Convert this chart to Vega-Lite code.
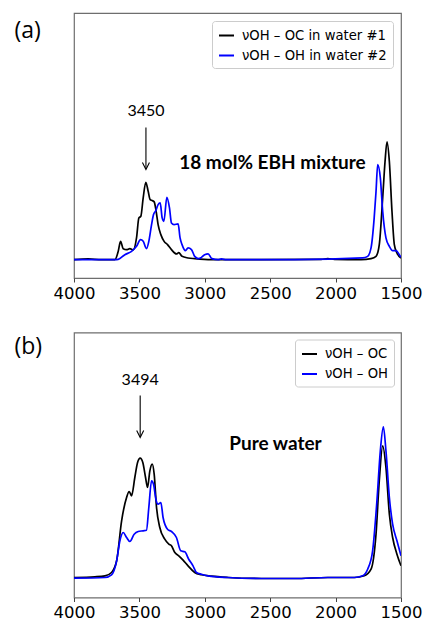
{
  "$schema": "https://vega.github.io/schema/vega-lite/v6.json",
  "background": "white",
  "padding": {"left": 13, "top": 12, "right": 2, "bottom": 4},
  "bounds": "flush",
  "spacing": 54.5,
  "config": {
    "view": {"stroke": "#6e6e6e", "strokeWidth": 1.2},
    "axis": {"grid": false}
  },
  "resolve": {
    "scale": {"x": "independent", "y": "independent", "color": "independent"},
    "legend": {"color": "independent"}
  },
  "datasets": {
    "a": [
      {"w": 4000, "I": 0, "s": "OC"}, {"w": 3891, "I": 0.7, "s": "OC"}, {"w": 3789, "I": 0, "s": "OC"},
      {"w": 3687, "I": 0, "s": "OC"}, {"w": 3662, "I": 8.3, "s": "OC"}, {"w": 3644, "I": 18.3, "s": "OC"},
      {"w": 3624, "I": 11, "s": "OC"}, {"w": 3598, "I": 10, "s": "OC"}, {"w": 3573, "I": 11, "s": "OC"},
      {"w": 3547, "I": 9.7, "s": "OC"}, {"w": 3522, "I": 21.7, "s": "OC"}, {"w": 3504, "I": 41.7, "s": "OC"},
      {"w": 3489, "I": 43.3, "s": "OC"}, {"w": 3471, "I": 61.7, "s": "OC"}, {"w": 3451, "I": 77.3, "s": "OC"},
      {"w": 3433, "I": 68.3, "s": "OC"}, {"w": 3418, "I": 60, "s": "OC"}, {"w": 3402, "I": 59, "s": "OC"},
      {"w": 3387, "I": 57.7, "s": "OC"}, {"w": 3372, "I": 48.3, "s": "OC"}, {"w": 3357, "I": 35, "s": "OC"},
      {"w": 3336, "I": 25, "s": "OC"}, {"w": 3311, "I": 18.3, "s": "OC"}, {"w": 3285, "I": 15, "s": "OC"},
      {"w": 3255, "I": 10, "s": "OC"}, {"w": 3217, "I": 5.7, "s": "OC"}, {"w": 3199, "I": 7, "s": "OC"},
      {"w": 3174, "I": 3.3, "s": "OC"}, {"w": 3128, "I": 1.7, "s": "OC"}, {"w": 3077, "I": 1, "s": "OC"},
      {"w": 2950, "I": 0, "s": "OC"}, {"w": 2568, "I": 0, "s": "OC"}, {"w": 2110, "I": 0.3, "s": "OC"},
      {"w": 2060, "I": 1, "s": "OC"}, {"w": 2009, "I": 0.3, "s": "OC"}, {"w": 1805, "I": 0, "s": "OC"},
      {"w": 1729, "I": 1, "s": "OC"}, {"w": 1691, "I": 3.3, "s": "OC"}, {"w": 1666, "I": 15, "s": "OC"},
      {"w": 1640, "I": 61.7, "s": "OC"}, {"w": 1622, "I": 98, "s": "OC"}, {"w": 1607, "I": 117.7, "s": "OC"},
      {"w": 1589, "I": 98, "s": "OC"}, {"w": 1569, "I": 48.3, "s": "OC"}, {"w": 1551, "I": 15, "s": "OC"},
      {"w": 1531, "I": 6.7, "s": "OC"}, {"w": 1500, "I": 1.7, "s": "OC"},
      {"w": 4000, "I": 0, "s": "OH"}, {"w": 3687, "I": 0, "s": "OH"}, {"w": 3662, "I": 0.3, "s": "OH"},
      {"w": 3611, "I": 5, "s": "OH"}, {"w": 3560, "I": 8.3, "s": "OH"}, {"w": 3522, "I": 13.3, "s": "OH"},
      {"w": 3491, "I": 20, "s": "OH"}, {"w": 3471, "I": 18.3, "s": "OH"}, {"w": 3446, "I": 11, "s": "OH"},
      {"w": 3428, "I": 18.3, "s": "OH"}, {"w": 3407, "I": 35, "s": "OH"}, {"w": 3392, "I": 45, "s": "OH"},
      {"w": 3374, "I": 49, "s": "OH"}, {"w": 3357, "I": 55, "s": "OH"}, {"w": 3341, "I": 56.7, "s": "OH"},
      {"w": 3326, "I": 41.7, "s": "OH"}, {"w": 3313, "I": 38.3, "s": "OH"}, {"w": 3290, "I": 62.3, "s": "OH"},
      {"w": 3270, "I": 51.7, "s": "OH"}, {"w": 3255, "I": 36.7, "s": "OH"}, {"w": 3235, "I": 35, "s": "OH"},
      {"w": 3204, "I": 35.7, "s": "OH"}, {"w": 3189, "I": 21.7, "s": "OH"}, {"w": 3174, "I": 15, "s": "OH"},
      {"w": 3148, "I": 9, "s": "OH"}, {"w": 3128, "I": 11.7, "s": "OH"}, {"w": 3102, "I": 10, "s": "OH"},
      {"w": 3077, "I": 3.3, "s": "OH"}, {"w": 3046, "I": 1, "s": "OH"}, {"w": 3026, "I": 2.3, "s": "OH"},
      {"w": 3001, "I": 5, "s": "OH"}, {"w": 2975, "I": 5.7, "s": "OH"}, {"w": 2945, "I": 1, "s": "OH"},
      {"w": 2899, "I": 0, "s": "OH"}, {"w": 2873, "I": 0.7, "s": "OH"}, {"w": 2835, "I": 0, "s": "OH"},
      {"w": 2314, "I": 0, "s": "OH"}, {"w": 1793, "I": 1.7, "s": "OH"}, {"w": 1755, "I": 3.3, "s": "OH"},
      {"w": 1729, "I": 11.7, "s": "OH"}, {"w": 1705, "I": 41.7, "s": "OH"}, {"w": 1691, "I": 68, "s": "OH"},
      {"w": 1678, "I": 95, "s": "OH"}, {"w": 1658, "I": 81.7, "s": "OH"}, {"w": 1640, "I": 48.3, "s": "OH"},
      {"w": 1615, "I": 21.7, "s": "OH"}, {"w": 1589, "I": 13.3, "s": "OH"}, {"w": 1564, "I": 9, "s": "OH"},
      {"w": 1538, "I": 9, "s": "OH"}, {"w": 1513, "I": 5, "s": "OH"}, {"w": 1500, "I": 2.3, "s": "OH"}
    ],
    "b": [
      {"w": 4000, "I": 0, "s": "OC"}, {"w": 3840, "I": 0.7, "s": "OC"}, {"w": 3763, "I": 1.7, "s": "OC"},
      {"w": 3713, "I": 5, "s": "OC"}, {"w": 3674, "I": 16.7, "s": "OC"}, {"w": 3636, "I": 56.7, "s": "OC"},
      {"w": 3598, "I": 80, "s": "OC"}, {"w": 3578, "I": 86, "s": "OC"}, {"w": 3560, "I": 81.7, "s": "OC"},
      {"w": 3535, "I": 100, "s": "OC"}, {"w": 3514, "I": 115, "s": "OC"}, {"w": 3494, "I": 119.3, "s": "OC"},
      {"w": 3474, "I": 115, "s": "OC"}, {"w": 3453, "I": 100, "s": "OC"}, {"w": 3438, "I": 90, "s": "OC"},
      {"w": 3420, "I": 106.7, "s": "OC"}, {"w": 3402, "I": 113.3, "s": "OC"}, {"w": 3387, "I": 103.3, "s": "OC"},
      {"w": 3369, "I": 70, "s": "OC"}, {"w": 3344, "I": 50, "s": "OC"}, {"w": 3306, "I": 38.3, "s": "OC"},
      {"w": 3275, "I": 33.3, "s": "OC"}, {"w": 3255, "I": 31.7, "s": "OC"}, {"w": 3229, "I": 25, "s": "OC"},
      {"w": 3199, "I": 21.7, "s": "OC"}, {"w": 3166, "I": 17.3, "s": "OC"}, {"w": 3128, "I": 11.7, "s": "OC"},
      {"w": 3077, "I": 5, "s": "OC"}, {"w": 3026, "I": 2.7, "s": "OC"}, {"w": 2950, "I": 1.3, "s": "OC"},
      {"w": 2823, "I": 0, "s": "OC"}, {"w": 2568, "I": -1, "s": "OC"}, {"w": 2314, "I": -1, "s": "OC"},
      {"w": 2060, "I": 0, "s": "OC"}, {"w": 1856, "I": 0, "s": "OC"}, {"w": 1780, "I": 1.7, "s": "OC"},
      {"w": 1729, "I": 8.3, "s": "OC"}, {"w": 1691, "I": 43.3, "s": "OC"}, {"w": 1666, "I": 96.7, "s": "OC"},
      {"w": 1640, "I": 131.7, "s": "OC"}, {"w": 1615, "I": 110, "s": "OC"}, {"w": 1589, "I": 63.3, "s": "OC"},
      {"w": 1564, "I": 40, "s": "OC"}, {"w": 1531, "I": 23.3, "s": "OC"}, {"w": 1500, "I": 11.7, "s": "OC"},
      {"w": 4000, "I": -0.7, "s": "OH"}, {"w": 3763, "I": 0, "s": "OH"}, {"w": 3713, "I": 2.7, "s": "OH"},
      {"w": 3674, "I": 16.7, "s": "OH"}, {"w": 3649, "I": 36.7, "s": "OH"}, {"w": 3624, "I": 45, "s": "OH"},
      {"w": 3598, "I": 40, "s": "OH"}, {"w": 3573, "I": 36, "s": "OH"}, {"w": 3540, "I": 43.3, "s": "OH"},
      {"w": 3509, "I": 46, "s": "OH"}, {"w": 3471, "I": 46.7, "s": "OH"}, {"w": 3446, "I": 47.3, "s": "OH"},
      {"w": 3428, "I": 70, "s": "OH"}, {"w": 3407, "I": 96.7, "s": "OH"}, {"w": 3392, "I": 93.3, "s": "OH"},
      {"w": 3374, "I": 78.3, "s": "OH"}, {"w": 3357, "I": 73.3, "s": "OH"}, {"w": 3336, "I": 75, "s": "OH"},
      {"w": 3319, "I": 60, "s": "OH"}, {"w": 3285, "I": 48.3, "s": "OH"}, {"w": 3255, "I": 46, "s": "OH"},
      {"w": 3217, "I": 40, "s": "OH"}, {"w": 3184, "I": 26.7, "s": "OH"}, {"w": 3153, "I": 25.7, "s": "OH"},
      {"w": 3123, "I": 18.3, "s": "OH"}, {"w": 3090, "I": 11.7, "s": "OH"}, {"w": 3064, "I": 5, "s": "OH"},
      {"w": 3026, "I": 3.3, "s": "OH"}, {"w": 2975, "I": 1.7, "s": "OH"}, {"w": 2823, "I": 0, "s": "OH"},
      {"w": 2568, "I": -1, "s": "OH"}, {"w": 2314, "I": -1, "s": "OH"}, {"w": 2060, "I": 0, "s": "OH"},
      {"w": 1856, "I": 0, "s": "OH"}, {"w": 1793, "I": 1.7, "s": "OH"}, {"w": 1755, "I": 8.3, "s": "OH"},
      {"w": 1717, "I": 26.7, "s": "OH"}, {"w": 1684, "I": 76.7, "s": "OH"}, {"w": 1658, "I": 126.7, "s": "OH"},
      {"w": 1635, "I": 150.7, "s": "OH"}, {"w": 1615, "I": 126.7, "s": "OH"}, {"w": 1589, "I": 80, "s": "OH"},
      {"w": 1564, "I": 53.3, "s": "OH"}, {"w": 1531, "I": 36.7, "s": "OH"}, {"w": 1500, "I": 21.7, "s": "OH"}
    ]
  },
  "vconcat": [
    {
      "width": 327,
      "height": 265,
      "layer": [
        {
          "data": {"name": "a"},
          "mark": {"type": "line", "interpolate": "monotone", "strokeWidth": 1.7, "clip": true},
          "encoding": {
            "x": {"field": "w", "type": "quantitative",
              "scale": {"domain": [1500, 4000], "reverse": true, "nice": false, "zero": false},
              "axis": {"values": [4000, 3500, 3000, 2500, 2000, 1500], "title": null, "grid": false, "domain": false,
                "tickSize": 4, "tickColor": "#444", "labelFont": "DejaVu Sans", "labelFontSize": 16.5,
                "labelColor": "#000", "labelPadding": 3, "format": "d", "labelFlush": false, "labelOverlap": false}},
            "y": {"field": "I", "type": "quantitative",
              "scale": {"domain": [-18.3, 246.3], "nice": false, "zero": false},
              "axis": {"title": "(a)", "labels": false, "ticks": false, "domain": false, "grid": false,
                "titleAngle": 0, "titleX": -60, "titleY": 17, "titleAlign": "left", "titleBaseline": "middle",
                "titleFont": "Open Sans", "titleFontSize": 23, "titleFontWeight": "normal", "titleColor": "#000"}},
            "color": {"field": "s", "type": "nominal",
              "scale": {"domain": ["OC", "OH"], "range": ["#000000", "#0000ff"]},
              "legend": {"orient": "top-right", "offset": 8, "title": null, "fillColor": "white",
                "strokeColor": "#cccccc", "cornerRadius": 3, "padding": 6, "symbolType": "stroke",
                "symbolSize": 225, "symbolStrokeWidth": 2, "labelFont": "DejaVu Sans", "labelFontSize": 13.2,
                "labelColor": "#000", "rowPadding": 5, "labelOffset": 7,
                "labelExpr": "datum.label == 'OC' ? 'νOH – OC in water #1' : 'νOH – OH in water #2'"}}
          }
        },
        {
          "data": {"values": [{}]},
          "mark": {"type": "rule", "color": "black", "strokeWidth": 1.1},
          "encoding": {
            "x": {"datum": 3450, "type": "quantitative"},
            "y": {"datum": 132, "type": "quantitative"},
            "y2": {"datum": 91}
          }
        },
        {
          "data": {"values": [{}]},
          "mark": {"type": "point", "shape": "M-1,-2L0,0L1,-2", "filled": false, "size": 49, "color": "black", "strokeWidth": 1.1, "opacity": 1},
          "encoding": {
            "x": {"datum": 3450, "type": "quantitative"},
            "y": {"datum": 90, "type": "quantitative"}
          }
        },
        {
          "data": {"values": [{}]},
          "mark": {"type": "text", "font": "Lato", "fontSize": 16, "baseline": "middle", "color": "black"},
          "encoding": {
            "x": {"datum": 3450, "type": "quantitative"},
            "y": {"datum": 148, "type": "quantitative"},
            "text": {"value": "3450"}
          }
        },
        {
          "data": {"values": [{}]},
          "mark": {"type": "text", "font": "Lato", "fontWeight": "bold", "fontSize": 19, "baseline": "middle", "color": "black"},
          "encoding": {
            "x": {"datum": 2483, "type": "quantitative"},
            "y": {"datum": 97, "type": "quantitative"},
            "text": {"value": "18 mol% EBH mixture"}
          }
        }
      ]
    },
    {
      "width": 327,
      "height": 265,
      "layer": [
        {
          "data": {"name": "b"},
          "mark": {"type": "line", "interpolate": "monotone", "strokeWidth": 1.7, "clip": true},
          "encoding": {
            "x": {"field": "w", "type": "quantitative",
              "scale": {"domain": [1500, 4000], "reverse": true, "nice": false, "zero": false},
              "axis": {"values": [4000, 3500, 3000, 2500, 2000, 1500], "title": null, "grid": false, "domain": false,
                "tickSize": 4, "tickColor": "#444", "labelFont": "DejaVu Sans", "labelFontSize": 16.5,
                "labelColor": "#000", "labelPadding": 3, "format": "d", "labelFlush": false, "labelOverlap": false}},
            "y": {"field": "I", "type": "quantitative",
              "scale": {"domain": [-20, 245], "nice": false, "zero": false},
              "axis": {"title": "(b)", "labels": false, "ticks": false, "domain": false, "grid": false,
                "titleAngle": 0, "titleX": -60, "titleY": 14, "titleAlign": "left", "titleBaseline": "middle",
                "titleFont": "Open Sans", "titleFontSize": 23, "titleFontWeight": "normal", "titleColor": "#000"}},
            "color": {"field": "s", "type": "nominal",
              "scale": {"domain": ["OC", "OH"], "range": ["#000000", "#0000ff"]},
              "legend": {"orient": "top-right", "offset": 7, "title": null, "fillColor": "white",
                "strokeColor": "#cccccc", "cornerRadius": 3, "padding": 6, "symbolType": "stroke",
                "symbolSize": 225, "symbolStrokeWidth": 2, "labelFont": "DejaVu Sans", "labelFontSize": 13.2,
                "labelColor": "#000", "rowPadding": 5, "labelOffset": 7,
                "labelExpr": "datum.label == 'OC' ? 'νOH – OC' : 'νOH – OH'"}}
          }
        },
        {
          "data": {"values": [{}]},
          "mark": {"type": "rule", "color": "black", "strokeWidth": 1.1},
          "encoding": {
            "x": {"datum": 3494, "type": "quantitative"},
            "y": {"datum": 182, "type": "quantitative"},
            "y2": {"datum": 141}
          }
        },
        {
          "data": {"values": [{}]},
          "mark": {"type": "point", "shape": "M-1,-2L0,0L1,-2", "filled": false, "size": 49, "color": "black", "strokeWidth": 1.1, "opacity": 1},
          "encoding": {
            "x": {"datum": 3494, "type": "quantitative"},
            "y": {"datum": 140, "type": "quantitative"}
          }
        },
        {
          "data": {"values": [{}]},
          "mark": {"type": "text", "font": "Lato", "fontSize": 16, "baseline": "middle", "color": "black"},
          "encoding": {
            "x": {"datum": 3494, "type": "quantitative"},
            "y": {"datum": 198, "type": "quantitative"},
            "text": {"value": "3494"}
          }
        },
        {
          "data": {"values": [{}]},
          "mark": {"type": "text", "font": "Lato", "fontWeight": "bold", "fontSize": 19, "baseline": "middle", "color": "black"},
          "encoding": {
            "x": {"datum": 2460, "type": "quantitative"},
            "y": {"datum": 134, "type": "quantitative"},
            "text": {"value": "Pure water"}
          }
        }
      ]
    }
  ]
}
